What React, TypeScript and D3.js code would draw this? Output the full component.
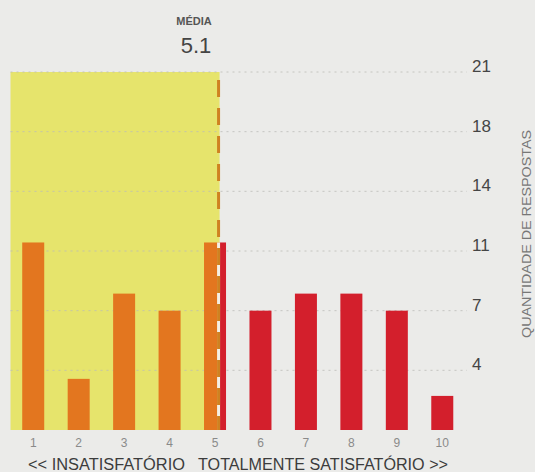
import React from "react";
import * as d3 from "d3";

const categories = [1, 2, 3, 4, 5, 6, 7, 8, 9, 10];
const counts = [11, 3, 8, 7, 11, 7, 8, 8, 7, 2];
const meanValue = 5.1;
const tickValues = [3.5, 7, 10.5, 14, 17.5, 21];
const tickLabels = ["4", "7", "11", "14", "18", "21"];
const leftLabel = "<< INSATISFATÓRIO";
const rightLabel = "TOTALMENTE SATISFATÓRIO >>";
const yTitle = "QUANTIDADE DE RESPOSTAS";

const W = 535;
const H = 472;
const FONT = "'Liberation Sans', Arial, Helvetica, sans-serif";
const BG = "#ebebe9";
const YELLOW = "#e6e46c";
const ORANGE = "#e3761f";
const RED = "#d31f2c";
const DASH = "#cf8221";

export default function App() {
  const x = d3.scaleLinear().domain([0.5, 10.5]).range([10.5, 465]);
  const y = d3.scaleLinear().domain([0, 21]).range([430, 72]);
  const bw = 22;
  const mx = x(meanValue);
  const gridRight = 467;

  return (
    <div style={{ position: "fixed", left: 0, top: 0, width: W, height: H }}>
      <svg width={W} height={H} style={{ display: "block", fontFamily: FONT }}>
        <rect x={0} y={0} width={W} height={H} fill={BG} />
        <rect x={x(0.5)} y={y(21)} width={mx - x(0.5)} height={y(0) - y(21)} fill={YELLOW} />
        {tickValues.map((t, i) => (
          <line
            key={"g" + i}
            x1={x(0.5)}
            x2={gridRight}
            y1={y(t)}
            y2={y(t)}
            stroke="#bdbdb8"
            strokeWidth={1}
            strokeDasharray="2,4"
            opacity={0.8}
          />
        ))}
        {tickValues.map((t, i) => (
          <text key={"t" + i} x={472} y={y(t)} fontSize={17} fill="#454545">
            {tickLabels[i]}
          </text>
        ))}
        {categories.map((c, i) => {
          const x0 = x(c) - bw / 2;
          const x1 = x(c) + bw / 2;
          const top = y(counts[i]);
          const h = y(0) - top;
          if (x1 <= mx) {
            return <rect key={"b" + i} x={x0} y={top} width={bw} height={h} fill={ORANGE} />;
          }
          if (x0 >= mx) {
            return <rect key={"b" + i} x={x0} y={top} width={bw} height={h} fill={RED} />;
          }
          return (
            <g key={"b" + i}>
              <rect x={x0} y={top} width={mx - x0} height={h} fill={ORANGE} />
              <rect x={mx} y={top} width={x1 - mx} height={h} fill={RED} />
            </g>
          );
        })}
        <line
          x1={mx - 1}
          x2={mx - 1}
          y1={y(0)}
          y2={y(counts[4])}
          stroke="#f4efe4"
          strokeWidth={3}
        />
        <line
          x1={mx - 1}
          x2={mx - 1}
          y1={y(21)}
          y2={y(0)}
          stroke={DASH}
          strokeWidth={3}
          strokeDasharray="17,11"
          strokeDashoffset={-8}
        />
        {categories.map((c, i) => (
          <text key={"x" + i} x={x(c)} y={447} fontSize={12} fill="#8a8a8a" textAnchor="middle">
            {c}
          </text>
        ))}
        <text x={28} y={470} fontSize={16} fill="#3c3c3c" textLength={157} lengthAdjust="spacingAndGlyphs">
          {leftLabel}
        </text>
        <text x={198} y={470} fontSize={16} fill="#3c3c3c" textLength={250} lengthAdjust="spacingAndGlyphs">
          {rightLabel}
        </text>
        <text x={194} y={25} fontSize={11} fontWeight={600} fill="#555" textAnchor="middle">
          MÉDIA
        </text>
        <text x={196} y={53} fontSize={22} fill="#444" textAnchor="middle">
          {meanValue.toFixed(1)}
        </text>
        <text
          transform={`translate(531,234) rotate(-90)`}
          fontSize={12}
          fill="#777"
          textAnchor="middle"
          textLength={208}
          lengthAdjust="spacingAndGlyphs"
        >
          {yTitle}
        </text>
      </svg>
    </div>
  );
}
